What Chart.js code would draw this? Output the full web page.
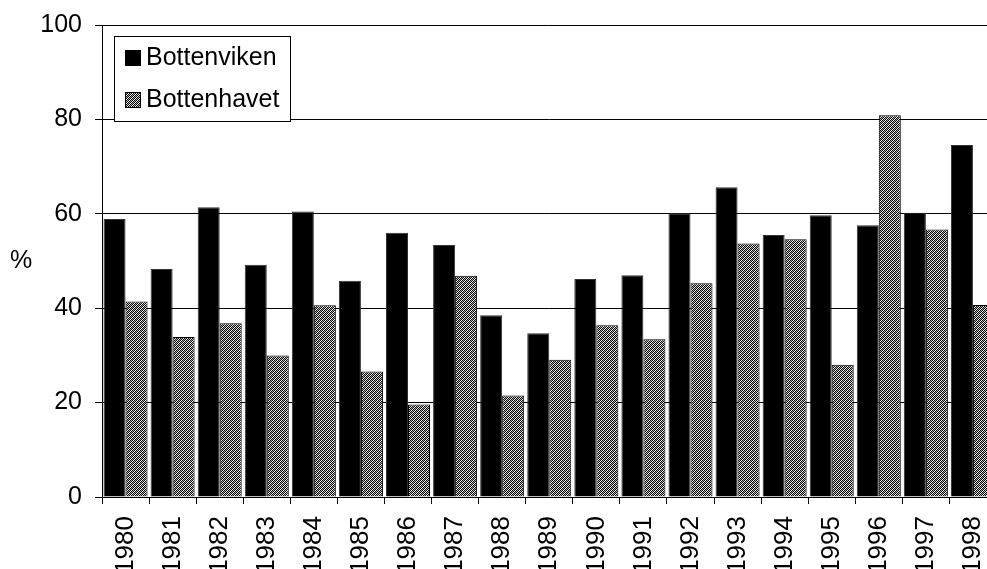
<!DOCTYPE html>
<html>
<head>
<meta charset="utf-8">
<script src="https://cdn.jsdelivr.net/npm/chart.js@4"></script>
<style>
  html, body { margin: 0; padding: 0; background: #fff; overflow: hidden; }
  #wrap { width: 987px; height: 569px; overflow: hidden; position: relative; }
  #chart { display: block; }
</style>
</head>
<body>
<div id="wrap"><canvas id="chart" width="1000" height="569"></canvas></div>
<script>
const years = ['1980', '1981', '1982', '1983', '1984', '1985', '1986', '1987', '1988', '1989',
  '1990', '1991', '1992', '1993', '1994', '1995', '1996', '1997', '1998'];
const bottenviken = [58.9, 48.3, 61.4, 49.2, 60.5, 45.8, 56.0, 53.4, 38.5, 34.7,
  46.2, 47.0, 60.1, 65.6, 55.5, 59.7, 57.6, 60.2, 74.6];
const bottenhavet = [41.4, 33.9, 36.8, 30.0, 40.6, 26.6, 19.6, 46.9, 21.5, 29.1,
  36.4, 33.4, 45.3, 53.7, 54.6, 28.0, 80.9, 56.7, 40.7];
const yTicks = [0, 20, 40, 60, 80, 100];

const canvas = document.getElementById('chart');
const ctx = canvas.getContext('2d');
const FONT = '"Liberation Sans", Arial, sans-serif';

// fine diagonal checker fill, close to the printed grey hatch
function makeHatch() {
  const tile = document.createElement('canvas');
  tile.width = 4;
  tile.height = 4;
  const t = tile.getContext('2d');
  for (let y = 0; y < 4; y++) {
    for (let x = 0; x < 4; x++) {
      const k = (x + y) % 4;
      t.fillStyle = k % 2 === 0 ? '#000' : (k === 1 ? '#fff' : '#b0b0b0');
      t.fillRect(x, y, 1, 1);
    }
  }
  return ctx.createPattern(tile, 'repeat');
}

const hatch = makeHatch();

// legend box inside the plot plus the horizontal "%" title
const overlay = {
  id: 'overlay',
  afterDraw(chart) {
    const c = chart.ctx;
    const area = chart.chartArea;
    c.save();
    c.font = '25px ' + FONT;
    c.fillStyle = '#000';
    c.textAlign = 'center';
    c.textBaseline = 'middle';
    c.fillText('%', 21, (area.top + area.bottom) / 2);

    c.fillStyle = '#fff';
    c.fillRect(114.5, 36.5, 176, 85);
    c.strokeStyle = '#000';
    c.lineWidth = 1;
    c.strokeRect(114.5, 36.5, 176, 85);

    const rows = [
      { y: 58, fill: '#000' },
      { y: 100, fill: hatch },
    ];
    chart.data.datasets.forEach((ds, i) => {
      const row = rows[i];
      c.fillStyle = row.fill;
      c.fillRect(125, row.y - 8, 16, 16);
      c.strokeStyle = '#000';
      c.strokeRect(125.5, row.y - 7.5, 15, 15);
      c.fillStyle = '#000';
      c.textAlign = 'left';
      c.fillText(ds.label, 146, row.y);
    });
    c.restore();
  },
};

Chart.defaults.font.family = FONT;
Chart.defaults.font.size = 25;
Chart.defaults.color = '#000';

new Chart(canvas, {
  type: 'bar',
  data: {
    labels: years,
    datasets: [
      {
        label: 'Bottenviken',
        data: bottenviken,
        backgroundColor: '#000',
        borderColor: '#333',
        borderWidth: 1,
      },
      {
        label: 'Bottenhavet',
        data: bottenhavet,
        backgroundColor: hatch,
        borderColor: '#000',
        borderWidth: 1,
      },
    ],
  },
  options: {
    responsive: false,
    animation: false,
    layout: { padding: { top: 25, right: 3.5, left: 0, bottom: 0 } },
    datasets: {
      bar: { categoryPercentage: 0.935, barPercentage: 1 },
    },
    plugins: {
      legend: { display: false },
      tooltip: { enabled: false },
    },
    scales: {
      x: {
        offset: true,
        afterFit: (scale) => {
          scale.height = 72;
          scale.paddingLeft = 0;
          scale.paddingRight = 0;
        },
        grid: {
          offset: true,
          drawOnChartArea: false,
          color: '#000',
          tickLength: 7,
        },
        border: { color: '#000' },
        ticks: { minRotation: 90, maxRotation: 90, padding: 12, autoSkip: false, font: { size: 26 } },
      },
      y: {
        min: 0,
        max: 100,
        afterFit: (scale) => {
          scale.width = 102;
          scale.paddingTop = 0;
          scale.paddingBottom = 0;
        },
        afterBuildTicks: (scale) => { scale.ticks = yTicks.map((v) => ({ value: v })); },
        grid: { color: '#000', tickLength: 7 },
        border: { color: '#000' },
        ticks: { padding: 13 },
      },
    },
  },
  plugins: [overlay],
});
</script>
</body>
</html>
